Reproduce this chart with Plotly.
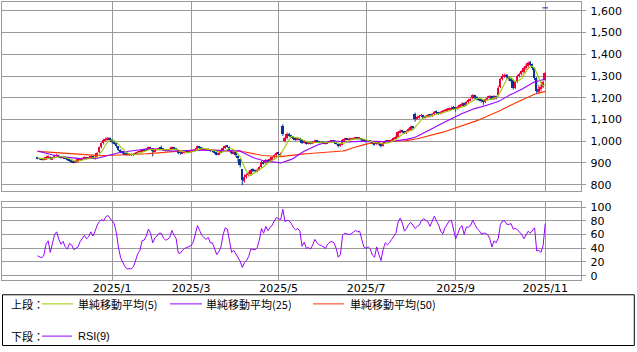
import pandas as pd
import plotly.graph_objects as go

# ---------------- data (daily, trading days from 2024-11-12) ----------------
close = [
    920, 918, 915, 917, 925, 928, 918, 924, 932, 935, 928, 924, 927, 920,
    915, 910, 905, 903, 908, 915, 918, 922, 925, 920, 925, 928, 922, 926,
    945, 970, 990, 1005, 1010, 1012, 1008, 995, 990, 975, 960, 950, 945, 940, 938, 938, 937, 940,
    945, 950, 952, 960, 958, 962, 970, 965,
    955, 960, 962, 965, 965, 960, 958, 960, 962, 972, 965, 960, 945, 945, 948, 950, 950, 952, 953,
    957, 965, 975, 970, 965, 962, 960, 963, 955, 955, 948, 940, 945, 955, 968, 978, 975, 960, 945,
    948, 935, 920, 890, 820, 835, 840, 852, 865, 865, 862, 868, 880, 905, 898, 912, 905, 915, 925, 935, 945, 942, 940,
    1030, 1012, 1030, 1025, 1020, 1012, 1008, 1012, 1008, 992, 998, 990, 992, 990, 995, 1002, 998, 995,
    995, 993, 990, 996, 998, 1000, 997, 988, 978, 982, 1005, 1010, 1008, 1008, 1010, 1012, 1015, 1012, 1014, 1005, 1000,
    998, 1000, 997, 990, 985, 995, 988, 978, 992, 1000, 998, 1000, 1005, 1012, 1020, 1040, 1048, 1042, 1038, 1045, 1055, 1065, 1062,
    1100, 1110, 1115, 1118, 1110, 1112, 1118, 1115, 1125, 1135, 1130, 1128, 1132, 1138, 1140, 1145, 1148, 1152, 1150,
    1148, 1155, 1165, 1172, 1165, 1180, 1188, 1195, 1210, 1200, 1195, 1190, 1185, 1180, 1192, 1200, 1205, 1195, 1205, 1200,
    1245, 1285, 1300, 1305, 1295, 1285, 1280, 1245, 1270, 1300, 1310, 1320, 1335, 1345, 1360, 1352, 1335, 1290, 1228, 1240, 1250, 1270, 1312,
]
open_ = [
    925, 920, 917, 913, 916, 925, 928, 917, 923, 933, 936, 929, 922, 927,
    920, 916, 910, 906, 902, 907, 914, 917, 921, 926, 919, 924, 929, 918,
    925, 948, 972, 990, 1004, 1008, 1014, 1008, 996, 990, 975, 960, 952, 946, 942, 936, 940, 936,
    940, 944, 950, 952, 962, 957, 962, 972,
    965, 953, 960, 961, 970, 966, 961, 957, 959, 962, 972, 966, 958, 947, 944, 948, 952, 949, 951,
    953, 956, 964, 976, 971, 966, 963, 959, 962, 956, 955, 948, 940, 945, 955, 966, 979, 974, 958,
    944, 950, 932, 915, 870, 815, 835, 842, 850, 868, 866, 860, 866, 880, 905, 898, 912, 905, 914, 924, 934, 946, 938,
    1070, 1000, 1012, 1032, 1024, 1018, 1012, 1006, 1013, 1006, 993, 997, 989, 994, 990, 995, 1003, 999,
    994, 996, 994, 990, 995, 997, 1001, 997, 988, 978, 983, 1004, 1011, 1006, 1007, 1009, 1011, 1016, 1011, 1013, 1005,
    1001, 997, 1001, 997, 990, 985, 995, 988, 978, 991, 1001, 996, 999, 1004, 1012, 1020, 1040, 1048, 1043, 1037, 1044, 1052, 1066,
    1125, 1102, 1108, 1116, 1118, 1108, 1112, 1120, 1115, 1124, 1136, 1132, 1127, 1132, 1138, 1140, 1144, 1147, 1154,
    1152, 1148, 1156, 1164, 1173, 1165, 1180, 1188, 1196, 1210, 1202, 1196, 1190, 1186, 1180, 1191, 1200, 1206, 1194, 1206,
    1210, 1248, 1285, 1298, 1305, 1296, 1285, 1280, 1246, 1272, 1298, 1308, 1318, 1334, 1345, 1362, 1353, 1336, 1290, 1226, 1238, 1248, 1282,
]
high = [
    928, 923, 920, 920, 928, 935, 930, 927, 938, 942, 938, 931, 930, 929,
    925, 918, 912, 909, 912, 918, 922, 925, 930, 928, 928, 932, 930, 930,
    950, 975, 995, 1012, 1018, 1020, 1018, 1010, 1000, 992, 978, 963, 955, 950, 945, 942, 944, 945,
    950, 955, 958, 965, 966, 968, 975, 975,
    967, 963, 966, 970, 980, 968, 964, 963, 967, 976, 974, 970, 960, 950, 952, 955, 955, 957, 958,
    962, 969, 980, 978, 974, 969, 966, 968, 964, 960, 957, 950, 949, 960, 972, 982, 983, 976, 960,
    953, 952, 935, 918, 872, 848, 852, 860, 870, 875, 870, 875, 885, 910, 910, 918, 916, 920, 930, 940, 950, 952, 948,
    1078, 1020, 1040, 1038, 1030, 1022, 1016, 1018, 1016, 1008, 1005, 1000, 998, 997, 1000, 1008, 1006, 1002,
    1000, 999, 997, 1000, 1003, 1005, 1004, 999, 990, 986, 1010, 1016, 1015, 1013, 1015, 1018, 1020, 1019, 1019, 1015, 1008,
    1005, 1004, 1004, 999, 993, 999, 998, 990, 996, 1005, 1004, 1004, 1010, 1018, 1026, 1045, 1055, 1052, 1047, 1050, 1060, 1072, 1070,
    1132, 1118, 1122, 1126, 1122, 1118, 1124, 1124, 1130, 1140, 1142, 1136, 1138, 1144, 1148, 1152, 1155, 1160, 1162,
    1158, 1162, 1170, 1180, 1178, 1186, 1195, 1200, 1216, 1214, 1207, 1200, 1195, 1190, 1196, 1208, 1212, 1210, 1212, 1210,
    1255, 1292, 1310, 1312, 1310, 1300, 1292, 1284, 1278, 1306, 1316, 1328, 1342, 1355, 1368, 1370, 1358, 1340, 1295, 1258, 1262, 1280, 1318,
]
low = [
    917, 915, 912, 911, 915, 922, 915, 915, 921, 930, 925, 920, 920, 917,
    910, 906, 900, 898, 900, 905, 912, 915, 919, 916, 917, 922, 918, 915,
    922, 945, 968, 985, 1000, 1003, 1002, 990, 985, 970, 955, 945, 940, 935, 933, 932, 933, 932,
    937, 942, 946, 950, 954, 955, 960, 960,
    930, 950, 956, 958, 960, 955, 953, 952, 956, 960, 962, 957, 940, 938, 940, 944, 945, 946, 948,
    950, 954, 962, 965, 961, 958, 955, 956, 951, 950, 943, 935, 936, 943, 953, 964, 970, 956, 940,
    940, 930, 905, 880, 798, 810, 828, 838, 846, 858, 856, 857, 864, 878, 893, 895, 900, 902, 912, 920, 930, 936, 932,
    1025, 995, 1008, 1020, 1015, 1005, 1002, 1003, 1002, 988, 990, 985, 986, 985, 987, 992, 994, 990,
    990, 989, 985, 987, 992, 994, 993, 984, 972, 975, 981, 1001, 1004, 1003, 1004, 1006, 1008, 1008, 1008, 1001, 996,
    994, 994, 993, 986, 980, 983, 982, 972, 976, 989, 993, 992, 996, 1002, 1010, 1018, 1036, 1038, 1033, 1034, 1042, 1048, 1055,
    1090, 1098, 1104, 1110, 1105, 1104, 1108, 1110, 1112, 1120, 1126, 1122, 1124, 1128, 1134, 1136, 1140, 1144, 1145,
    1136, 1145, 1152, 1160, 1158, 1162, 1176, 1184, 1192, 1195, 1188, 1184, 1178, 1168, 1176, 1188, 1196, 1190, 1190, 1192,
    1206, 1245, 1280, 1292, 1288, 1278, 1272, 1238, 1240, 1268, 1294, 1302, 1312, 1328, 1338, 1346, 1328, 1282, 1218, 1220, 1230, 1244, 1278,
]
# closes of the 49 sessions before the first plotted one (for the moving averages)
prior_closes = [
    945, 950, 955, 948, 952, 960, 958, 950, 945, 940, 948, 955,
    950, 946, 952, 958, 955, 950, 948, 945, 950, 955, 952, 948,
    985, 990, 995, 992, 988, 995, 990, 985, 980, 975,
    965, 958, 952, 948, 945, 940, 938, 935, 932, 930, 928, 926, 924, 922, 921,
]
rsi9 = [
    29, 28, 26, 30, 46, 51, 34, 47, 60, 64, 53, 46, 50, 42,
    39, 47, 45, 38, 40, 42, 50, 55, 59, 54, 57, 64, 58, 65,
    74, 79, 82, 80, 86, 88, 84, 80, 76, 62, 40, 26, 20, 13, 10, 10, 10, 13,
    22, 32, 37, 51, 52, 58, 68, 62,
    48, 55, 58, 62, 62, 55, 52, 53, 56, 66, 59, 54, 33, 33, 37, 40, 41, 43, 44,
    49, 62, 73, 66, 59, 56, 53, 56, 48, 48, 38, 31, 35, 42, 60, 70, 68, 48, 34,
    37, 31, 27, 21, 12, 19, 22, 28, 39, 39, 38, 41, 52, 69, 62, 72, 66, 70, 74, 80, 85, 83, 82,
    97, 79, 81, 80, 76, 70, 67, 69, 65, 43, 49, 40, 41, 39, 45, 53, 48, 45,
    44, 42, 40, 46, 49, 50, 48, 40, 27, 31, 59, 62, 61, 60, 61, 63, 66, 64, 65, 53, 42,
    40, 42, 39, 30, 27, 42, 31, 22, 38, 48, 45, 48, 53, 57, 62, 78, 84, 77, 65, 69, 75, 78, 74,
    69, 72, 74, 81, 83, 81, 79, 72, 80, 87, 80, 74, 65, 61, 70, 76, 80, 81, 68,
    54, 61, 70, 73, 60, 71, 71, 73, 81, 75, 69, 66, 61, 62, 62, 60, 54, 42, 51, 48,
    55, 75, 80, 80, 75, 75, 76, 68, 69, 67, 63, 60, 54, 60, 65, 62, 67, 70, 36, 37, 34, 44, 76,
]
spot_price = [1614]
price_ticks = [800, 900, 1000, 1100, 1200, 1300, 1400, 1500, 1600]
rsi_ticks = [0, 20, 40, 60, 80, 100]
label_months = [1, 3, 5, 7, 9, 11]
jp_holidays = ["2024-11-23", "2024-12-31", "2025-01-01", "2025-01-02", "2025-01-03",
               "2025-01-13", "2025-02-11", "2025-02-24", "2025-03-20", "2025-04-29",
               "2025-05-05", "2025-05-06", "2025-07-21", "2025-08-11", "2025-09-15",
               "2025-09-23", "2025-10-13", "2025-11-03"]
legend_top = [("単純移動平均(5)", "#99CC00"), ("単純移動平均(25)", "#9900FF"), ("単純移動平均(50)", "#FF3300")]

# ---------------- derived ----------------
n = len(close)
bdays = pd.bdate_range("2024-11-12", periods=n + 40)
dates = [d for d in bdays if d.strftime("%Y-%m-%d") not in jp_holidays][:n]
idx = list(range(n))
tickvals, ticktext = [], []
for i, d in enumerate(dates):
    if (i == 0 or d.month != dates[i - 1].month) and d.year == 2025 and d.month in label_months:
        tickvals.append(i)
        ticktext.append(f"{d.year}/{d.month}")

full = pd.Series(prior_closes + close, dtype=float)
ma5 = full.rolling(5).mean().tolist()[-n:]
ma25 = full.rolling(25).mean().tolist()[-n:]
ma50 = full.rolling(50).mean().tolist()[-n:]

hi = [max(h, o, c) for h, o, c in zip(high, open_, close)]
lo = [min(l, o, c) for l, o, c in zip(low, open_, close)]

RED, BLUE = "#F0003C", "#0A3296"
GRID = "#9A9A9A"

fig = go.Figure()
for up, col in ((True, RED), (False, BLUE)):
    sel = [i for i in idx if (close[i] >= open_[i]) == up]
    wx, wy = [], []
    for i in sel:
        wx += [i, i, None]
        wy += [lo[i], hi[i], None]
    fig.add_trace(go.Scatter(x=wx, y=wy, mode="lines", line=dict(color=col, width=1),
                             xaxis="x", yaxis="y", hoverinfo="skip"))
    fig.add_trace(go.Bar(x=sel, y=[max(abs(close[i] - open_[i]), 1) for i in sel],
                         base=[min(close[i], open_[i]) for i in sel],
                         width=0.9, marker=dict(color=col, line=dict(width=0)),
                         xaxis="x", yaxis="y"))

fig.add_trace(go.Scatter(x=idx, y=ma50, mode="lines", line=dict(color="#FF3300", width=1.1), xaxis="x", yaxis="y"))
fig.add_trace(go.Scatter(x=idx, y=ma25, mode="lines", line=dict(color="#9900FF", width=1.1), xaxis="x", yaxis="y"))
fig.add_trace(go.Scatter(x=idx, y=ma5, mode="lines", line=dict(color="#99CC00", width=1.1), xaxis="x", yaxis="y"))
fig.add_trace(go.Scatter(x=[idx[-1]], y=spot_price, mode="markers",
                         marker=dict(symbol="line-ew", size=4, line=dict(color=BLUE, width=1)),
                         xaxis="x", yaxis="y"))
fig.add_trace(go.Scatter(x=idx, y=rsi9, mode="lines", line=dict(color="#9900FF", width=1), xaxis="x2", yaxis="y2"))

W, H = 637, 352
xdom = [2.3 / W, 581.3 / W]
xr = [-16.5, 254.9]
tick_font = dict(family="DejaVu Sans, Verdana, sans-serif", size=11, color="#000")
common_x = dict(domain=xdom, range=xr, tickvals=tickvals, showgrid=True, gridcolor=GRID, gridwidth=1,
                showline=True, mirror=True, linecolor=GRID, linewidth=1, zeroline=False, ticks="", ticklen=0)
common_y = dict(side="right", showgrid=True, gridcolor=GRID, gridwidth=1, showline=True, mirror=True,
                linecolor=GRID, linewidth=1, zeroline=False, ticks="outside", ticklen=4, tickcolor=GRID,
                tickfont=tick_font, ticklabelstandoff=2)

fig.update_layout(
    width=W, height=H, margin=dict(l=0, r=0, t=0, b=0),
    paper_bgcolor="white", plot_bgcolor="white", showlegend=False,
    barmode="overlay", bargap=0,
    xaxis=dict(**common_x, anchor="y", showticklabels=False),
    yaxis=dict(**common_y, anchor="x", domain=[1 - 192.3 / H, 1 - 2.3 / H], range=[772.6, 1639.7],
               tickvals=price_ticks, tickformat=","),
    xaxis2=dict(**common_x, anchor="y2", ticktext=ticktext, tickfont=tick_font, ticklabelstandoff=-2),
    yaxis2=dict(**common_y, anchor="x2", domain=[1 - 282.3 / H, 1 - 203.3 / H], range=[-6.2, 108.3],
                tickvals=rsi_ticks),
)

# legend box
def px(xp): return xp / W
def py(yp): return 1 - yp / H

shapes = [dict(type="rect", xref="paper", yref="paper", x0=px(2.5), x1=px(634.3), y0=py(348.5), y1=py(297.3),
               line=dict(color="#000", width=1), fillcolor="rgba(0,0,0,0)")]
ann = []
jp_font = dict(family="Noto Sans CJK JP, sans-serif", size=11, color="#000")
row1, row2 = 306.5, 339
common_ann = dict(showarrow=False, xanchor="left", yanchor="middle", xref="paper", yref="paper", borderpad=0)
ann.append(dict(x=px(10), y=py(row1), text="上段：", font=jp_font, **common_ann))
ann.append(dict(x=px(10), y=py(row2), text="下段：", font=jp_font, **common_ann))
line_x = [(42, 73, 77), (170, 202, 205), (313, 344, 349)]
for (lbl, col), (a, b, t) in zip(legend_top, line_x):
    shapes.append(dict(type="line", xref="paper", yref="paper", x0=px(a), x1=px(b), y0=py(row1), y1=py(row1),
                       line=dict(color=col, width=1)))
    ann.append(dict(x=px(t), y=py(row1), text=lbl, font=jp_font, **common_ann))
shapes.append(dict(type="line", xref="paper", yref="paper", x0=px(42), x1=px(72), y0=py(row2), y1=py(row2),
                   line=dict(color="#9900FF", width=1)))
ann.append(dict(x=px(77), y=py(row2), text="RSI(9)",
                font=dict(family="Liberation Sans, Arial, sans-serif", size=11, color="#000"), **common_ann))
fig.update_layout(shapes=shapes, annotations=ann)

fig.write_html("out.html")
